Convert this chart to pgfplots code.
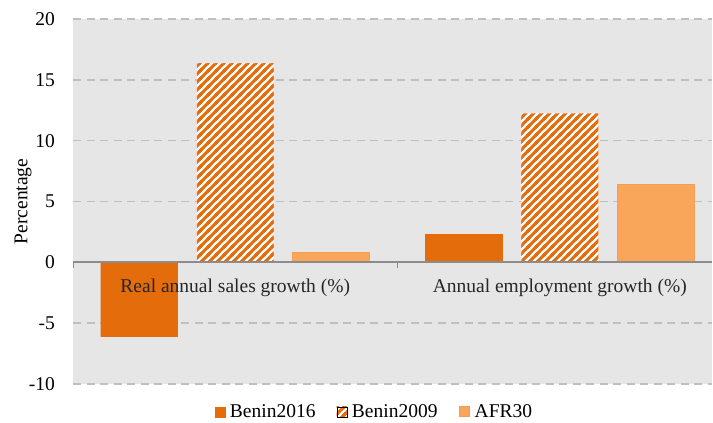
\documentclass[border=0pt]{standalone}
\usepackage{fontspec}
\setmainfont{Liberation Serif}
\usepackage{pgfplots}
\pgfplotsset{compat=1.18}
\usetikzlibrary{patterns}
\definecolor{dk}{HTML}{E46C0A}
\definecolor{lt}{HTML}{F9A65A}
\definecolor{ltedge}{HTML}{F0A050}
\definecolor{bg}{HTML}{E6E6E6}
\definecolor{gridc}{HTML}{BFBFBF}
\definecolor{axc}{HTML}{8C8C8C}
\pgfdeclarepatternformonly{stripes}{\pgfqpoint{-1bp}{-1bp}}{\pgfqpoint{9bp}{9bp}}{\pgfqpoint{8bp}{8bp}}{%
 \pgfsetlinewidth{3bp}%
 \pgfpathmoveto{\pgfqpoint{-1bp}{-1bp}}\pgfpathlineto{\pgfqpoint{9bp}{9bp}}%
 \pgfpathmoveto{\pgfqpoint{-1bp}{7bp}}\pgfpathlineto{\pgfqpoint{2bp}{10bp}}%
 \pgfpathmoveto{\pgfqpoint{7bp}{-1bp}}\pgfpathlineto{\pgfqpoint{10bp}{2bp}}%
 \pgfusepath{stroke}}
\pgfplotsset{sqlegend/.style={legend image code/.code={\draw[#1] (0bp,-5bp) rectangle (10bp,5bp);}}}
\begin{document}
\begin{tikzpicture}[font=\fontsize{19.5bp}{23bp}\selectfont]
\begin{axis}[
 scale only axis, width=639bp, height=365bp,
 xmin=-0.5, xmax=1.469, ymin=-10, ymax=20,
 ytick={-10,-5,0,5,10,15,20},
 yticklabels={-10,-5,0,5,10,15,20},
 yticklabel style={inner sep=0pt, anchor=east, xshift=-18bp},
 xtick=\empty,
 axis line style={draw=none},
 major tick length=0pt,
 ymajorgrids,
 grid style={gridc, line width=1.5bp, dash pattern=on 8bp off 5.5bp},
 axis background/.style={fill=bg},
 ylabel={Percentage},
 ylabel style={at={(axis description cs:-0.0782,0.5)}, anchor=center},
 legend style={at={(axis description cs:0.474,-0.045)}, anchor=north, draw=none, fill=none,
   legend columns=-1, /tikz/every even column/.append style={column sep=16bp},
   nodes={inner xsep=5bp}},
]
\addplot[ybar, bar width=0.237, bar shift=-0.296, fill=dk, draw=dk, sqlegend]
  coordinates {(0,-6.1) (1,2.3)};
\addlegendentry{Benin2016}
\addplot[ybar, bar width=0.237, bar shift=0, draw=none, preaction={fill=white}, pattern=stripes, pattern color=dk, sqlegend]
  coordinates {(0,16.35) (1,12.25)};
\addlegendentry{Benin2009}
\addplot[ybar, bar width=0.237, bar shift=0.296, fill=lt, draw=ltedge, line width=1.2bp, sqlegend]
  coordinates {(0,0.78) (1,6.4)};
\addlegendentry{AFR30}
\draw[axc, line width=1.8bp] (axis cs:-0.5,0) -- (axis cs:1.469,0);
\draw[axc, line width=1.5bp] (axis cs:-0.5,0) -- ([yshift=-6bp]axis cs:-0.5,0);
\draw[axc, line width=1.5bp] (axis cs:0.5,0) -- ([yshift=-6bp]axis cs:0.5,0);
\node[anchor=base, text=black!85] at (axis cs:0,-2.47) {Real annual sales growth (\%)};
\node[anchor=base, text=black!85] at (axis cs:1,-2.47) {Annual employment growth (\%)};
\end{axis}
\pgfresetboundingbox
\path ([xshift=-73bp,yshift=19bp]current axis.north west) rectangle ([xshift=1bp,yshift=-39bp]current axis.south east);
\end{tikzpicture}
\end{document}
